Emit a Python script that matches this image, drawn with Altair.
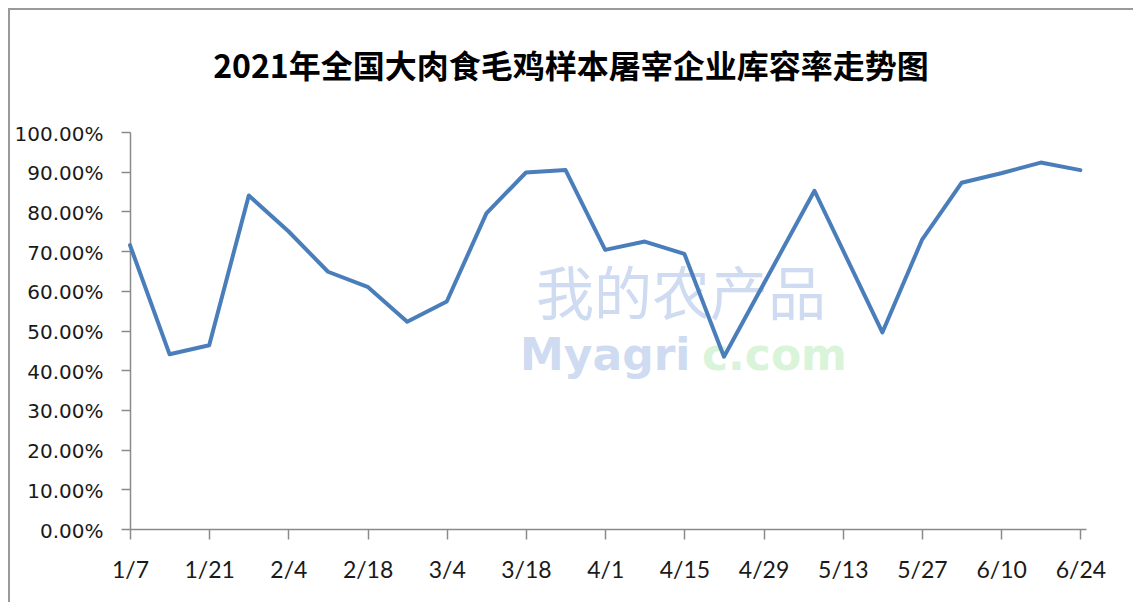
import altair as alt
import pandas as pd

# ---- data ----
dates = ["1/7", "1/14", "1/21", "1/28", "2/4", "2/11", "2/18", "2/25", "3/4", "3/11",
         "3/18", "3/25", "4/1", "4/8", "4/15", "4/22", "5/8", "5/20", "5/27", "6/3",
         "6/10", "6/17", "6/24"]
rates = [71.5, 44.0, 46.3, 84.0, 75.0, 64.8, 61.0, 52.2, 57.3, 79.5,
         89.8, 90.4, 70.3, 72.4, 69.3, 43.4, 85.2, 49.5, 72.8, 87.2,
         89.6, 92.3, 90.4]
tick_labels = ["1/7", "1/21", "2/4", "2/18", "3/4", "3/18", "4/1", "4/15", "4/29",
               "5/13", "5/27", "6/10", "6/24"]
y_ticks = [0.0, 0.1, 0.2, 0.3, 0.4, 0.5, 0.6, 0.7, 0.8, 0.9, 1.0]
title_text = "2021年全国大肉食毛鸡样本屠宰企业库容率走势图"
watermark_cn = "我的农产品"
watermark_en1 = "Myagri"
watermark_en2 = "c.com"

start = pd.Timestamp("2021-01-07")


def day_of(md):
    m, d = md.split("/")
    return (pd.Timestamp(year=2021, month=int(m), day=int(d)) - start).days


df = pd.DataFrame({
    "date": dates,
    "day": [day_of(d) for d in dates],
    "rate": [r / 100 for r in rates],
})
tick_days = [day_of(t) for t in tick_labels]
label_expr = "[" + ",".join(f"'{t}'" for t in tick_labels) + "][round(datum.value/14)]"

AXIS_GRAY = "#8a8a8a"

line = alt.Chart(df).mark_line(
    color="#4a7ebb", strokeWidth=4, strokeJoin="round", strokeCap="round"
).encode(
    x=alt.X("day:Q",
            scale=alt.Scale(domain=[0, 169], nice=False, zero=False),
            axis=alt.Axis(values=tick_days, labelExpr=label_expr, title=None, grid=False,
                          domainColor=AXIS_GRAY, domainWidth=1.5, tickColor=AXIS_GRAY,
                          tickWidth=1.5, tickSize=10, labelFont="Lato", labelFontSize=23,
                          labelColor="#1a1a1a", labelPadding=20, labelFlush=False)),
    y=alt.Y("rate:Q",
            scale=alt.Scale(domain=[0, 1], nice=False),
            axis=alt.Axis(values=y_ticks, format=".2%", title=None, grid=False,
                          domainColor=AXIS_GRAY, domainWidth=1.5, tickColor=AXIS_GRAY,
                          tickWidth=1.5, tickSize=9, labelFont="DejaVu Sans", labelFontSize=20,
                          labelColor="#1a1a1a", labelPadding=18, labelOffset=2)),
    tooltip=["date:N", alt.Tooltip("rate:Q", format=".2%")],
)

one = pd.DataFrame({"k": [0]})

border_left = alt.Chart(one).mark_rule(color="#9a9a9a", strokeWidth=2).encode(
    x=alt.value(-121), y=alt.value(-123), y2=alt.value(480))
border_top = alt.Chart(one).mark_rule(color="#9a9a9a", strokeWidth=2).encode(
    x=alt.value(-122), x2=alt.value(1010), y=alt.value(-123))

title = alt.Chart(one).mark_text(
    text=title_text, font="Noto Sans CJK SC", fontSize=32, fontWeight="bold",
    color="#000000", align="center", baseline="middle"
).encode(x=alt.value(441), y=alt.value(-64))

wm_cn = alt.Chart(one).mark_text(
    text=watermark_cn, font="Noto Sans CJK SC", fontSize=58, color="#c9d8f0",
    opacity=0.9, align="center", baseline="middle"
).encode(x=alt.value(551), y=alt.value(166))
wm_en1 = alt.Chart(one).mark_text(
    text=watermark_en1, font="DejaVu Sans", fontWeight="bold", fontSize=44,
    color="#c9d8f0", opacity=0.9, align="left", baseline="alphabetic"
).encode(x=alt.value(390), y=alt.value(238))
wm_en2 = alt.Chart(one).mark_text(
    text=watermark_en2, font="DejaVu Sans", fontWeight="bold", fontSize=44,
    color="#d6f3d6", opacity=0.9, align="left", baseline="alphabetic"
).encode(x=alt.value(572), y=alt.value(238))

chart = alt.layer(border_left, border_top, title, wm_cn, wm_en1, wm_en2, line).properties(
    width=956,
    height=397,
    padding={"left": 122, "top": 124, "right": 47, "bottom": 73},
    autosize=alt.AutoSizeParams(type="none"),
    background="white",
).configure_view(stroke=None)

chart.save("out.html", embed_options={"renderer": "svg", "actions": False})
